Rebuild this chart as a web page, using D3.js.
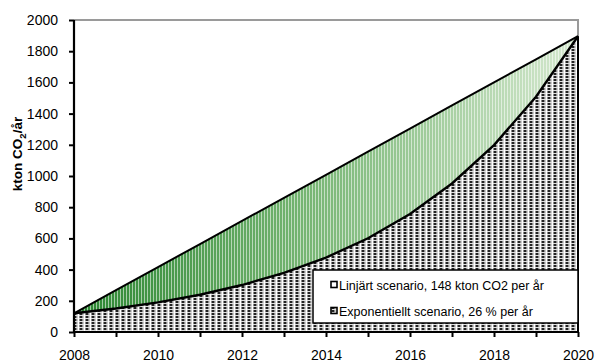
<!DOCTYPE html>
<html>
<head>
<meta charset="utf-8">
<script src="https://cdn.jsdelivr.net/npm/d3@7"></script>
<style>
  html, body { margin: 0; padding: 0; background: #fff; }
  svg { display: block; font-family: "Liberation Sans", Arial, sans-serif; }
</style>
</head>
<body>
<svg id="chart" width="595" height="362"></svg>
<script>
// Emission scenarios, kton CO2 per year
const years = [2008, 2009, 2010, 2011, 2012, 2013, 2014, 2015, 2016, 2017, 2018, 2019, 2020];
const linear = [120, 268, 416, 564, 712, 860, 1008, 1156, 1304, 1452, 1600, 1748, 1896];
const exponential = [120, 151, 190, 239, 301, 379, 477, 601, 756, 952, 1198, 1508, 1896];
const yTicks = [0, 200, 400, 600, 800, 1000, 1200, 1400, 1600, 1800, 2000];
const xLabels = [2008, 2010, 2012, 2014, 2016, 2018, 2020];
const legendLabels = ["Linjärt scenario, 148 kton CO2 per år", "Exponentiellt scenario, 26 % per år"];

const svg = d3.select("#chart");
const plotL = 74, plotR = 578, plotT = 20, plotB = 332;

const x = d3.scaleLinear().domain([2008, 2020]).range([plotL, plotR]);
const y = d3.scaleLinear().domain([0, 2000]).range([plotB, plotT]);

const defs = svg.append("defs");

// green band: horizontal fade from dark to pale green
const g1 = defs.append("linearGradient").attr("id", "greenFade")
  .attr("gradientUnits", "userSpaceOnUse")
  .attr("x1", plotL).attr("x2", plotR).attr("y1", 0).attr("y2", 0);
g1.append("stop").attr("offset", 0).attr("stop-color", "#2a8530");
g1.append("stop").attr("offset", 0.45).attr("stop-color", "#74b471");
g1.append("stop").attr("offset", 1).attr("stop-color", "#d6e9d0");

// thin white vertical stripes over the green band
const stripes = defs.append("pattern").attr("id", "stripes")
  .attr("patternUnits", "userSpaceOnUse").attr("width", 3).attr("height", 4);
stripes.append("rect").attr("x", 0).attr("y", 0).attr("width", 1).attr("height", 4)
  .attr("fill", "#fff").attr("fill-opacity", 0.55);

// dotted grey texture for the exponential area
const dots = defs.append("pattern").attr("id", "dots")
  .attr("patternUnits", "userSpaceOnUse").attr("width", 6).attr("height", 3);
dots.append("rect").attr("width", 6).attr("height", 3).attr("fill", "#8a8a8a");
dots.append("rect").attr("x", 2).attr("y", 1).attr("width", 2).attr("height", 2).attr("fill", "#222");
dots.append("rect").attr("x", 0).attr("y", 0).attr("width", 6).attr("height", 1).attr("fill", "#e0e0e0");
dots.append("rect").attr("x", 0).attr("y", 0).attr("width", 1).attr("height", 3).attr("fill", "#fff");
dots.append("rect").attr("x", 5).attr("y", 1).attr("width", 1).attr("height", 2).attr("fill", "#c8c8c8");

const pts = years.map((yr, i) => ({ yr, lin: linear[i], exp: exponential[i] }));

// plot border (grey top and right)
svg.append("path")
  .attr("d", `M${plotL},${plotT}H${plotR}V${plotB}`)
  .attr("fill", "none").attr("stroke", "#9a9a9a").attr("stroke-width", 2);

// band between the two scenarios
const band = d3.area().x(d => x(d.yr)).y0(d => y(d.exp)).y1(d => y(d.lin));
svg.append("path").datum(pts).attr("d", band).attr("fill", "url(#greenFade)");
svg.append("path").datum(pts).attr("d", band).attr("fill", "url(#stripes)");

// area under the exponential scenario
const under = d3.area().x(d => x(d.yr)).y0(y(0)).y1(d => y(d.exp));
svg.append("path").datum(pts).attr("d", under).attr("fill", "url(#dots)");
svg.append("line")
  .attr("x1", x(2020)).attr("x2", x(2020)).attr("y1", y(exponential[12])).attr("y2", plotB)
  .attr("stroke", "#000").attr("stroke-width", 2);

// scenario lines
const lineGen = key => d3.line().x(d => x(d.yr)).y(d => y(d[key]));
svg.append("path").datum(pts).attr("d", lineGen("lin"))
  .attr("fill", "none").attr("stroke", "#000").attr("stroke-width", 2);
svg.append("path").datum(pts).attr("d", lineGen("exp"))
  .attr("fill", "none").attr("stroke", "#000").attr("stroke-width", 2.4);

// y axis
const yAxis = svg.append("g").attr("transform", `translate(${plotL},0)`)
  .call(d3.axisLeft(y).tickValues(yTicks).tickSize(5).tickPadding(11).tickFormat(d3.format("d")));
// x axis
const xAxis = svg.append("g").attr("transform", `translate(0,${plotB})`)
  .call(d3.axisBottom(x).tickValues(years).tickSize(5).tickPadding(13)
    .tickFormat(d => xLabels.includes(d) ? String(d) : ""));
[yAxis, xAxis].forEach(ax => {
  ax.select(".domain").attr("stroke", "#000").attr("stroke-width", 2.2);
  ax.selectAll(".tick line").attr("stroke", "#000").attr("stroke-width", 2);
  ax.selectAll(".tick text").attr("fill", "#000").attr("font-size", 14)
    .attr("font-family", "Liberation Sans, Arial, sans-serif");
});
yAxis.select(".domain").attr("d", `M0,${plotB}V${plotT}`);
xAxis.select(".domain").attr("d", `M${plotL},0H${plotR}`);

// y axis title
const title = svg.append("text")
  .attr("transform", `translate(22,154) rotate(-90)`)
  .attr("text-anchor", "middle")
  .attr("font-size", 13.5).attr("font-weight", "bold").attr("fill", "#000");
title.append("tspan").text("kton CO");
title.append("tspan").attr("dy", 4).attr("font-size", 9.5).text("2");
title.append("tspan").attr("dy", -4).text("/år");

// legend
const lg = svg.append("g");
lg.append("rect").attr("x", 313).attr("y", 270).attr("width", 265).attr("height", 53)
  .attr("fill", "#fff").attr("stroke", "#000").attr("stroke-width", 1.5);
const fills = ["#fff", "url(#dots)"];
legendLabels.forEach((lab, i) => {
  const cy = 285 + i * 26;
  lg.append("rect").attr("x", 331).attr("y", cy - 3.5).attr("width", 6).attr("height", 6)
    .attr("fill", fills[i]).attr("stroke", "#000").attr("stroke-width", 1.6);
  lg.append("text").attr("x", 339).attr("y", cy + 4.5)
    .attr("font-size", 12.5).attr("fill", "#000").text(lab);
});
</script>
</body>
</html>
